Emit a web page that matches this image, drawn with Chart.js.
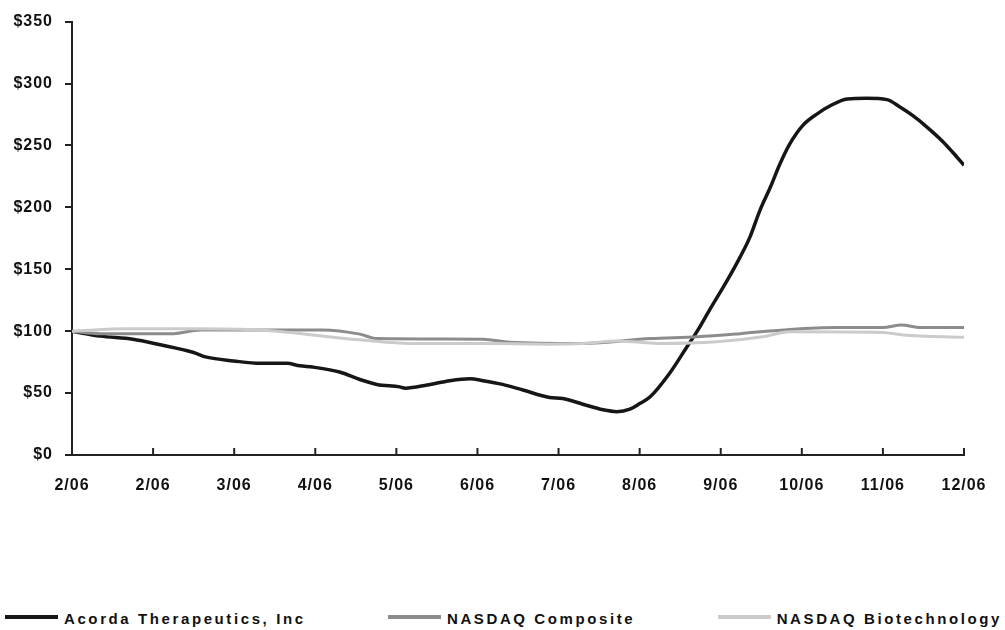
<!DOCTYPE html>
<html>
<head>
<meta charset="utf-8">
<script src="https://cdn.jsdelivr.net/npm/chart.js@4"></script>
<style>
  html, body { margin: 0; padding: 0; background: #fff; }
  #wrap { position: relative; width: 1005px; height: 630px; background: #fff; }
  #chartBox { position: absolute; left: 0; top: 0; width: 1005px; height: 500px; }
  #legend {
    position: absolute; left: 5px; right: 3px; top: 610px;
    display: flex; justify-content: space-between; align-items: center;
    font-family: "Liberation Sans", Arial, sans-serif; font-weight: bold;
    font-size: 15px; letter-spacing: 2.6px; color: #111;
  }
  .item { display: flex; align-items: center; }
  .swatch { width: 53px; height: 4px; margin-right: 6px; margin-top: -3px; }
</style>
</head>
<body>
<div id="wrap">
  <div id="chartBox"><canvas id="chart"></canvas></div>
  <div id="legend"></div>
</div>
<script>
// x positions are in months from the start of the period (0 = first 2/06 tick)
const tickLabels = ['2/06', '2/06', '3/06', '4/06', '5/06', '6/06', '7/06', '8/06', '9/06', '10/06', '11/06', '12/06'];

const acordaMonths = [0, 0.35, 0.75, 1.09, 1.49, 1.66, 1.99, 2.32, 2.65, 2.81, 2.97, 3.30, 3.55, 3.76, 4.04, 4.11, 4.38, 4.66, 4.91, 5.07, 5.31, 5.56, 5.89, 6.05, 6.30, 6.55, 6.72, 6.88, 7.00, 7.13, 7.37, 7.58, 7.71, 7.87, 8.08, 8.24, 8.36, 8.48, 8.61, 8.73, 8.85, 9.01, 9.19, 9.35, 9.56, 9.80, 10.05, 10.21, 10.37, 10.54, 10.74, 10.86, 11.0];
const acordaValues = [100, 96, 93.5, 89, 83, 79, 76, 74, 74, 72, 71, 67, 61, 57, 55, 54, 56.5, 60, 61.5, 60, 57, 52.5, 46.5, 45.7, 41, 36.5, 35, 37, 41.5, 47, 66, 87, 100, 118, 141, 160, 176, 197, 216, 235, 251, 266, 275.5, 282, 287.5, 288, 287, 281, 274, 265, 253, 244.5, 234];

const compositeMonths = [0, 0.35, 1.25, 1.58, 2.32, 3.09, 3.55, 3.76, 5.07, 5.40, 6.30, 7.13, 7.71, 8.24, 8.85, 9.43, 10.0, 10.23, 10.46, 11.0];
const compositeValues = [100, 98, 98, 101, 101, 101, 97.6, 94, 93.5, 91, 90, 94, 95.5, 98, 101.4, 103, 103, 105, 103, 103];

const biotechMonths = [0, 0.68, 1.49, 2.32, 3.55, 4.25, 5.07, 5.89, 6.30, 6.72, 7.0, 7.25, 7.95, 8.52, 8.85, 10.0, 10.25, 11.0];
const biotechValues = [100, 102, 102, 101, 93, 90, 90, 89.5, 90, 92, 91, 90, 91.4, 95.5, 99.5, 99, 97, 95];

const seriesNames = ['Acorda Therapeutics, Inc', 'NASDAQ Composite', 'NASDAQ Biotechnology'];
const seriesColors = ['#161616', '#8c8c8c', '#cbcbcb'];
const seriesWidths = [3.5, 3, 3];

const yMax = 350;
const yStep = 50;

function toPoints(xs, ys) {
  return xs.map((x, i) => ({ x: x, y: ys[i] }));
}

const spacing = {
  id: 'spacing',
  beforeUpdate(chart) { chart.ctx.letterSpacing = '1px'; },
  beforeDraw(chart) { chart.ctx.letterSpacing = '1px'; }
};

// x axis tick marks point up into the plot
const innerTicks = {
  id: 'innerTicks',
  afterDatasetsDraw(chart) {
    const { ctx, scales: { x }, chartArea } = chart;
    ctx.save();
    ctx.strokeStyle = '#222';
    ctx.lineWidth = 2;
    x.ticks.forEach(t => {
      const px = x.getPixelForValue(t.value);
      ctx.beginPath();
      ctx.moveTo(px, chartArea.bottom);
      ctx.lineTo(px, chartArea.bottom - 7);
      ctx.stroke();
    });
    ctx.restore();
  }
};

const datasets = [
  { data: toPoints(biotechMonths, biotechValues), i: 2 },
  { data: toPoints(compositeMonths, compositeValues), i: 1 },
  { data: toPoints(acordaMonths, acordaValues), i: 0 }
].map(d => ({
  label: seriesNames[d.i],
  data: d.data,
  borderColor: seriesColors[d.i],
  borderWidth: seriesWidths[d.i],
  pointRadius: 0,
  fill: false,
  cubicInterpolationMode: 'monotone'
}));

new Chart(document.getElementById('chart'), {
  type: 'line',
  data: { datasets: datasets },
  plugins: [spacing, innerTicks],
  options: {
    responsive: true,
    maintainAspectRatio: false,
    animation: false,
    layout: { padding: { top: 21, right: 41, left: 0, bottom: 0 } },
    scales: {
      x: {
        type: 'linear',
        min: 0,
        max: tickLabels.length - 1,
        grid: { display: false },
        border: { display: true, color: '#222', width: 2 },
        ticks: {
          stepSize: 1,
          padding: 13,
          maxRotation: 0,
          autoSkip: false,
          color: '#111',
          font: { family: 'Liberation Sans', weight: 'bold', size: 16 },
          callback: v => tickLabels[v]
        },
        afterFit: s => { s.height = 45; }
      },
      y: {
        min: 0,
        max: yMax,
        grid: { drawOnChartArea: false, drawTicks: true, tickLength: 7, color: '#222', lineWidth: 2 },
        border: { display: true, color: '#222', width: 2 },
        ticks: {
          stepSize: yStep,
          padding: 12,
          color: '#111',
          font: { family: 'Liberation Sans', weight: 'bold', size: 16 },
          callback: v => '$' + v
        },
        afterFit: s => { s.width = 72; }
      }
    },
    plugins: {
      legend: { display: false },
      tooltip: { enabled: false }
    }
  }
});

// legend built from the series names
const legend = document.getElementById('legend');
seriesNames.forEach((name, i) => {
  const item = document.createElement('div');
  item.className = 'item';
  const sw = document.createElement('span');
  sw.className = 'swatch';
  sw.style.background = seriesColors[i];
  const txt = document.createElement('span');
  txt.textContent = name;
  item.appendChild(sw);
  item.appendChild(txt);
  legend.appendChild(item);
});
</script>
</body>
</html>
